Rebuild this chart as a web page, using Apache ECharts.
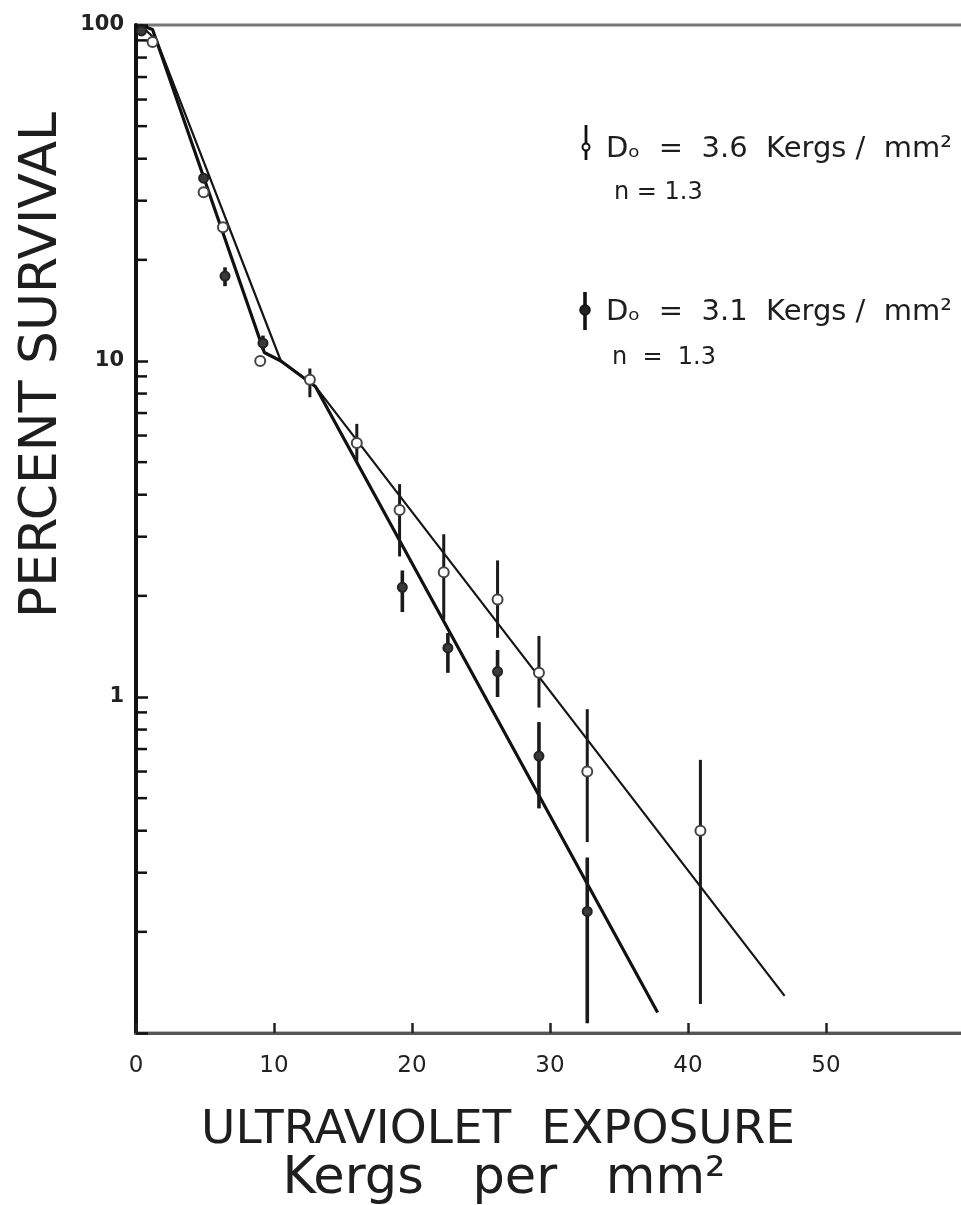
<!DOCTYPE html>
<html><head><meta charset="utf-8">
<script src="https://cdn.jsdelivr.net/npm/echarts@6/dist/echarts.min.js"></script>
<style>html,body{margin:0;padding:0;background:#fff}#c{width:961px;height:1205px}</style>
</head><body><div id="c"></div>
<script>
// X axis ticks (Kergs per mm^2)
const xTickValues = [0, 10, 20, 30, 40, 50];
// Y axis labelled decades
const yTickLabels = [1, 10, 100];
// minor log ticks on the y axis
const yMinorTicks = [0.2,0.3,0.4,0.5,0.6,0.7,0.8,0.9, 2,3,4,5,6,7,8,9, 20,30,40,50,60,70,80,90];

// Series A: D0 = 3.6 Kergs/mm2, n = 1.3 (open circles)
const doseA = [1.2, 4.9, 6.3, 9.0, 12.6, 16.0, 19.1, 22.3, 26.2, 29.2, 32.7, 40.9];
const survA = [89, 31.8, 25, 10.0, 8.8, 5.7, 3.6, 2.35, 1.95, 1.18, 0.6, 0.4];
const lowA  = [89, 31.8, 25, 10.0, 7.8, 5.0, 2.62, 1.70, 1.50, 0.93, 0.37, 0.122];
const highA = [89, 31.8, 25, 10.0, 9.5, 6.5, 4.3, 3.05, 2.55, 1.52, 0.92, 0.65];

// Series B: D0 = 3.1 Kergs/mm2, n = 1.3 (filled circles)
const doseB = [0.4, 4.9, 6.45, 9.2, 19.3, 22.6, 26.2, 29.2, 32.7];
const survB = [96, 35, 17.9, 11.3, 2.12, 1.40, 1.19, 0.667, 0.23];
const lowB  = [96, 35, 16.7, 10.8, 1.79, 1.18, 1.0, 0.466, 0.107];
const highB = [96, 35, 19.0, 11.9, 2.38, 1.55, 1.38, 0.842, 0.333];

// Fitted survival curves
const fitAx = [0.3, 1.5, 10.5, 13.0, 47.0];
const fitAy = [100, 90, 10.0, 8.4, 0.129];
const fitBx = [0.3, 1.2, 9.3, 10.5, 13.0, 37.8];
const fitBy = [100, 97, 10.6, 10.0, 8.4, 0.115];

const zip = (a, b) => a.map((v, i) => [v, b[i]]);
const rows = (x, y, lo, hi) => x.map((v, i) => [v, y[i], lo[i], hi[i]]);

function makeRender(filled) {
  return function (params, api) {
    const x = api.value(0), y = api.value(1), lo = api.value(2), hi = api.value(3);
    const c = api.coord([x, y]);
    const children = [];
    if (hi > lo) {
      const a = api.coord([x, hi]), b = api.coord([x, lo]);
      children.push({type: 'line', shape: {x1: a[0], y1: a[1], x2: b[0], y2: b[1]},
        style: {stroke: '#1a1a1a', lineWidth: filled ? 3.6 : 3}});
    }
    children.push({type: 'circle', shape: {cx: c[0], cy: c[1], r: filled ? 4.5 : 5},
      style: {fill: filled ? '#3a3a3a' : '#fff', stroke: filled ? '#222' : '#444', lineWidth: 2}});
    return {type: 'group', children};
  };
}

const chart = echarts.init(document.getElementById('c'), null, {renderer: 'canvas'});
chart.setOption({
  animation: false,
  backgroundColor: '#fff',
  grid: {left: 136, top: 25, width: 828, height: 1008, show: true, borderColor: '#777', borderWidth: 3,
    containLabel: false, outerBoundsMode: 'none'},
  xAxis: {
    type: 'value', min: 0, max: 60, interval: 10,
    axisLine: {onZero: false, lineStyle: {color: '#555', width: 3}},
    axisTick: {inside: true, length: 10, lineStyle: {color: '#222', width: 2.5}},
    axisLabel: {margin: 22, fontSize: 23, color: '#222', fontFamily: 'DejaVu Sans',
      formatter: v => (xTickValues.indexOf(v) >= 0 ? String(v) : '')},
    splitLine: {show: false}
  },
  yAxis: {
    type: 'log', logBase: 10, min: 0.1, max: 100,
    axisLine: {onZero: false, lineStyle: {color: '#111', width: 4}},
    axisTick: {inside: true, length: 12, lineStyle: {color: '#111', width: 2.5}},
    axisLabel: {margin: 12, fontSize: 21, fontWeight: 'bold', color: '#222', fontFamily: 'DejaVu Sans',
      formatter: v => { const r = Math.round(v); return (v >= 1 && yTickLabels.indexOf(r) >= 0) ? String(r) : ''; }},
    splitLine: {show: false}
  },
  series: [
    {type: 'custom', name: 'minor', silent: true, clip: false,
      data: yMinorTicks.map(v => [0, v]),
      renderItem: (params, api) => {
        const p = api.coord([0, api.value(1)]);
        return {type: 'line', shape: {x1: p[0], y1: p[1], x2: p[0] + 11, y2: p[1]},
          style: {stroke: '#111', lineWidth: 2.5}};
      }},
    {type: 'line', name: 'fitA', data: zip(fitAx, fitAy), showSymbol: false,
      lineStyle: {color: '#151515', width: 2.2}, z: 2},
    {type: 'line', name: 'fitB', data: zip(fitBx, fitBy), showSymbol: false,
      lineStyle: {color: '#111', width: 3.2}, z: 2},
    {type: 'custom', name: 'A', clip: false, z: 3, encode: {x: 0, y: 1},
      data: rows(doseA, survA, lowA, highA), renderItem: makeRender(false)},
    {type: 'custom', name: 'B', clip: false, z: 3, encode: {x: 0, y: 1},
      data: rows(doseB, survB, lowB, highB), renderItem: makeRender(true)}
  ],
  graphic: [
    {type: 'text', x: 42, y: 365, rotation: Math.PI / 2,
      style: {text: 'PERCENT SURVIVAL', font: '52px "DejaVu Sans"', fill: '#1e1e1e', textAlign: 'center', textVerticalAlign: 'middle'}},
    {type: 'text', x: 498, y: 1131,
      style: {text: 'ULTRAVIOLET  EXPOSURE', font: '47px "DejaVu Sans"', fill: '#1e1e1e', textAlign: 'center', textVerticalAlign: 'middle'}},
    {type: 'text', x: 504, y: 1180,
      style: {text: 'Kergs   per   mm²', font: '51px "DejaVu Sans"', fill: '#1e1e1e', textAlign: 'center', textVerticalAlign: 'middle'}},
    // legend symbols
    {type: 'line', shape: {x1: 586, y1: 125, x2: 586, y2: 160}, style: {stroke: '#111', lineWidth: 2.8}},
    {type: 'circle', shape: {cx: 586, cy: 147, r: 3.5}, style: {fill: '#fff', stroke: '#111', lineWidth: 2}},
    {type: 'line', shape: {x1: 585, y1: 292, x2: 585, y2: 330}, style: {stroke: '#111', lineWidth: 3.6}},
    {type: 'circle', shape: {cx: 585, cy: 310, r: 5}, style: {fill: '#222', stroke: '#111', lineWidth: 1.5}},
    {type: 'text', x: 606, y: 149,
      style: {text: 'Dₒ  =  3.6  Kergs /  mm²', font: '29px "DejaVu Sans"', fill: '#1e1e1e', textAlign: 'left', textVerticalAlign: 'middle'}},
    {type: 'text', x: 614, y: 193,
      style: {text: 'n = 1.3', font: '24px "DejaVu Sans"', fill: '#1e1e1e', textAlign: 'left', textVerticalAlign: 'middle'}},
    {type: 'text', x: 606, y: 312,
      style: {text: 'Dₒ  =  3.1  Kergs /  mm²', font: '29px "DejaVu Sans"', fill: '#1e1e1e', textAlign: 'left', textVerticalAlign: 'middle'}},
    {type: 'text', x: 612, y: 358,
      style: {text: 'n  =  1.3', font: '24px "DejaVu Sans"', fill: '#1e1e1e', textAlign: 'left', textVerticalAlign: 'middle'}}
  ]
});
</script></body></html>
